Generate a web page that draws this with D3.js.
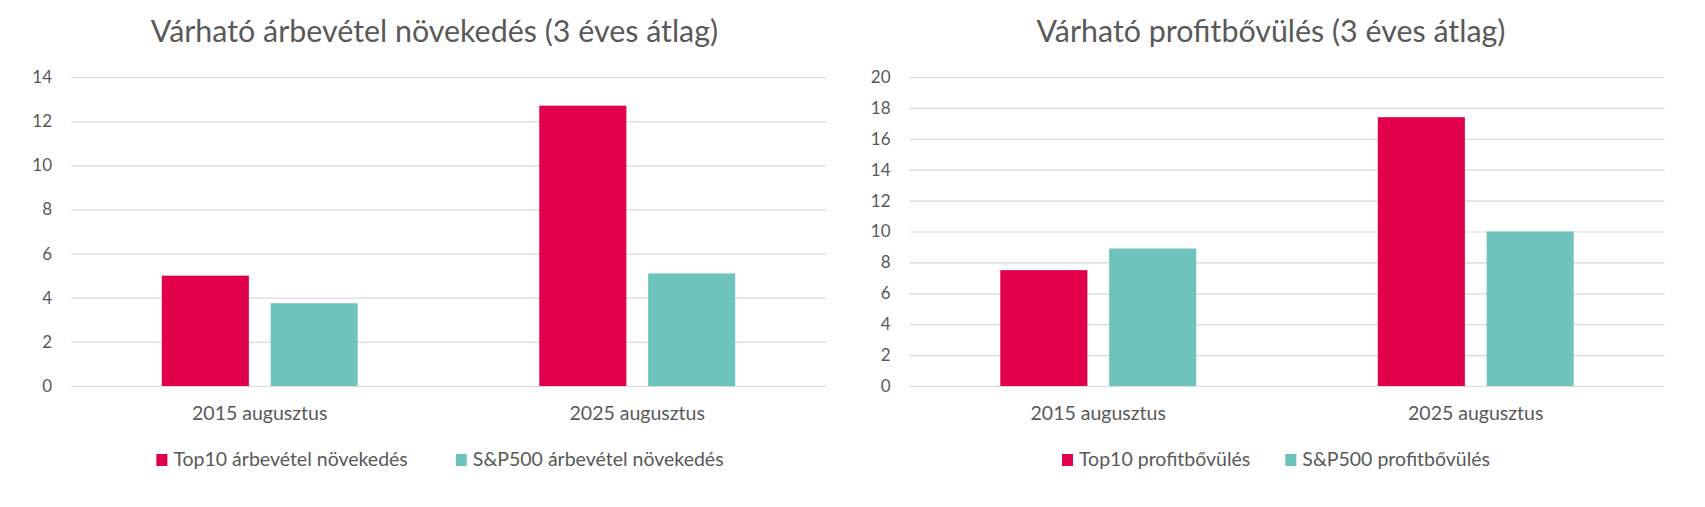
<!DOCTYPE html>
<html>
<head>
<meta charset="utf-8">
<script src="https://cdn.jsdelivr.net/npm/d3@7"></script>
<style>
  html, body { margin: 0; padding: 0; background: #ffffff; }
  svg { display: block; }
  text { font-family: Lato, "Open Sans", sans-serif; fill: #595959; }
</style>
</head>
<body>
<svg id="chart" width="1705" height="507"></svg>
<script>
// ---- data ----
const categories = ["2015 augusztus", "2025 augusztus"];

const revenueTitle = "Várható árbevétel növekedés (3 éves átlag)";
const revenueSeriesNames = ["Top10 árbevétel növekedés", "S&P500 árbevétel növekedés"];
const revenueTop10 = [5.0, 12.7];
const revenueSP500 = [3.75, 5.1];
const revenueTicks = [0, 2, 4, 6, 8, 10, 12, 14];

const profitTitle = "Várható profitbővülés (3 éves átlag)";
const profitSeriesNames = ["Top10 profitbővülés", "S&P500 profitbővülés"];
const profitTop10 = [7.5, 17.4];
const profitSP500 = [8.9, 10.0];
const profitTicks = [0, 2, 4, 6, 8, 10, 12, 14, 16, 18, 20];

const seriesColors = ["#E2004B", "#6EC3BD"];

// ---- drawing ----
const svg = d3.select("#chart");

function drawPanel(opts) {
  const g = svg.append("g");
  const y = d3.scaleLinear()
    .domain([0, d3.max(opts.ticks)])
    .range([386, 77]);

  const x0 = d3.scaleBand()
    .domain(categories)
    .range([opts.left, opts.right])
    .paddingInner(0.481)
    .paddingOuter(0.2405);

  const x1 = d3.scaleBand()
    .domain([0, 1])
    .range([0, x0.bandwidth()])
    .paddingInner(0.2);

  // gridlines + y labels
  const yAxis = d3.axisLeft(y)
    .tickValues(opts.ticks)
    .tickSize(-(opts.right - opts.left))
    .tickPadding(19)
    .tickFormat(d3.format("d"));

  const ya = g.append("g")
    .attr("transform", `translate(${opts.left},0)`)
    .call(yAxis);
  ya.select(".domain").remove();
  ya.selectAll(".tick line").attr("stroke", "#d9d9d9").attr("stroke-width", 1.2);
  ya.selectAll(".tick text")
    .style("font-family", "Lato, 'Open Sans', sans-serif")
    .style("font-size", "17px")
    .attr("fill", "#595959");

  // bars
  const rows = categories.map((c, i) => ({ cat: c, vals: [opts.s1[i], opts.s2[i]] }));
  const groups = g.append("g").selectAll("g")
    .data(rows)
    .join("g")
    .attr("transform", d => `translate(${x0(d.cat)},0)`);
  groups.selectAll("rect")
    .data(d => d.vals.map((v, k) => ({ v, k })))
    .join("rect")
    .attr("x", d => x1(d.k))
    .attr("width", x1.bandwidth())
    .attr("y", d => y(d.v))
    .attr("height", d => y(0) - y(d.v))
    .attr("fill", d => seriesColors[d.k]);

  // category labels
  const xAxis = d3.axisBottom(x0).tickSize(0).tickPadding(0);
  const xa = g.append("g")
    .attr("transform", `translate(0,420)`)
    .call(xAxis);
  xa.select(".domain").remove();
  xa.selectAll(".tick text")
    .attr("y", 0)
    .attr("dy", 0)
    .style("font-family", "Lato, 'Open Sans', sans-serif")
    .style("font-size", "19.5px")
    .attr("fill", "#595959");

  // title
  g.append("text")
    .attr("x", opts.titleX)
    .attr("y", 42)
    .attr("text-anchor", "middle")
    .style("font-size", "30.4px")
    .text(opts.title);

  // legend
  const lg = g.append("g");
  const items = lg.selectAll("g")
    .data(opts.names)
    .join("g");
  items.append("rect")
    .attr("width", 11)
    .attr("height", 12)
    .attr("y", 454)
    .attr("fill", (d, i) => seriesColors[i]);
  items.append("text")
    .attr("x", 17)
    .attr("y", 466)
    .style("font-size", "19.5px")
    .text(d => d);
  let cx = 0;
  items.each(function () {
    const w = this.getBBox().width;
    d3.select(this).attr("transform", `translate(${cx},0)`);
    cx += w + opts.legendGap;
  });
  const total = cx - opts.legendGap;
  lg.attr("transform", `translate(${opts.legendCenter - total / 2},0)`);
}

drawPanel({
  left: 71, right: 826,
  ticks: revenueTicks,
  s1: revenueTop10, s2: revenueSP500,
  title: revenueTitle, titleX: 434.5,
  names: revenueSeriesNames, legendGap: 48, legendCenter: 440
});

drawPanel({
  left: 909.5, right: 1664.5,
  ticks: profitTicks,
  s1: profitTop10, s2: profitSP500,
  title: profitTitle, titleX: 1271,
  names: profitSeriesNames, legendGap: 35, legendCenter: 1276
});
</script>
</body>
</html>
